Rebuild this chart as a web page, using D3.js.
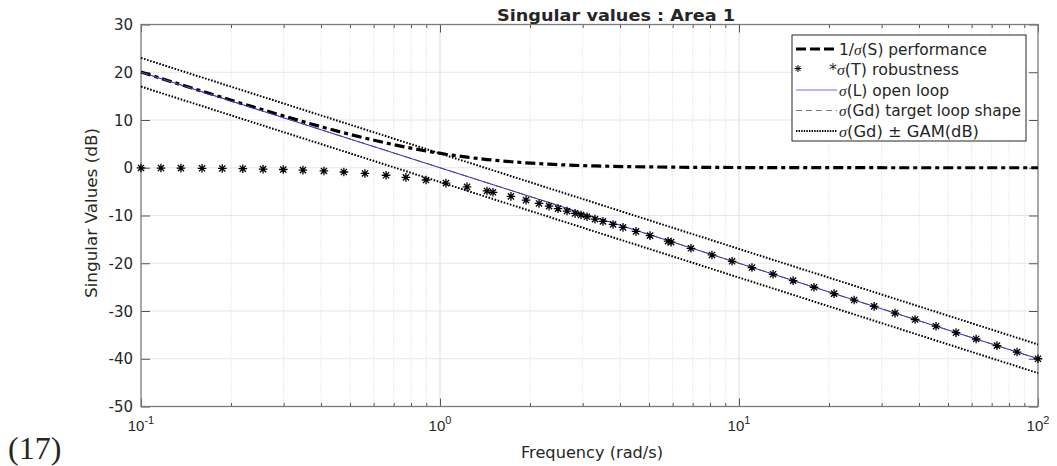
<!DOCTYPE html>
<html><head><meta charset="utf-8">
<script src="https://cdn.jsdelivr.net/npm/d3@7"></script>
<style>
body{margin:0;background:#fff}
text{font-family:"DejaVu Sans",Arial,Helvetica,sans-serif;fill:#262626}
</style></head><body>
<svg id="chart" width="1057" height="466"></svg>
<script>
// Frequency points (rad/s) of the evaluated loop responses
const freq = [0.1, 0.1166, 0.136, 0.160, 0.187, 0.219, 0.256, 0.299, 0.348, 0.409,
  0.477, 0.561, 0.660, 0.769, 0.898, 1.047, 1.231, 1.436, 1.504, 1.727,
  1.940, 2.144, 2.316, 2.482, 2.660, 2.830, 2.963, 3.102, 3.299, 3.508,
  3.791, 4.093, 4.525, 5.039, 5.791, 5.929, 6.906, 8.121, 9.483, 11.05,
  13.0, 15.17, 17.82, 20.80, 24.27, 28.31, 33.25, 38.80, 45.60, 53.2,
  62.1, 72.9, 85.1, 100];
// sigma(T), complementary sensitivity (dB)
const sigmaT = [-0.04, -0.06, -0.08, -0.11, -0.15, -0.20, -0.28, -0.37, -0.50, -0.67,
  -0.89, -1.19, -1.57, -2.02, -2.57, -3.22, -4.01, -4.86, -5.14, -6.00,
  -6.78, -7.48, -8.04, -8.55, -9.07, -9.55, -9.90, -10.26, -10.75, -11.24,
  -11.87, -12.49, -13.32, -14.21, -15.38, -15.58, -16.87, -18.26, -19.59, -20.90,
  -22.30, -23.64, -25.03, -26.37, -27.71, -29.04, -30.44, -31.78, -33.18, -34.52,
  -35.86, -37.26, -38.60, -40.00];
// 1/sigma(S), inverse sensitivity (dB)
const invSigmaS = [20.04, 18.72, 17.40, 16.03, 14.73, 13.38, 12.12, 10.87, 9.66, 8.43,
  7.31, 6.21, 5.19, 4.30, 3.51, 2.82, 2.21, 1.72, 1.60, 1.26,
  1.02, 0.86, 0.74, 0.65, 0.57, 0.51, 0.46, 0.42, 0.38, 0.34,
  0.29, 0.25, 0.21, 0.17, 0.13, 0.12, 0.09, 0.07, 0.05, 0.04,
  0.03, 0.02, 0.01, 0.01, 0.01, 0.01, 0.00, 0.00, 0.00, 0.00,
  0.00, 0.00, 0.00, 0.00];
// Straight-line responses (constant -20 dB/decade slope)
const lineFreq = [0.1, 100];
const sigmaL = [20, -40];
const sigmaGd = [20, -40];
const gdPlusGam = [23, -37];
const gdMinusGam = [17, -43];

const yTicks = [30, 20, 10, 0, -10, -20, -30, -40, -50];
const xMajor = [0.1, 1, 10, 100];
const xExp = ["-1", "0", "1", "2"];
const legendLabels = ["1/σ(S) performance", "*σ(T) robustness", "σ(L) open loop",
  "σ(Gd) target loop shape", "σ(Gd) ± GAM(dB)"];

const svg = d3.select("#chart");
const L = 141, R = 1038, T = 24.5, B = 406.5;
const x = d3.scaleLog().domain([0.1, 100]).range([L, R]);
const y = d3.scaleLinear().domain([-50, 30]).range([B, T]);

const xMinor = [];
[0.1, 1, 10].forEach(d => { for (let k = 2; k <= 9; k++) xMinor.push(+(d * k).toPrecision(3)); });

// grid
const grid = svg.append("g");
grid.selectAll(".gxm").data(xMinor).join("line")
  .attr("x1", d => x(d)).attr("x2", d => x(d)).attr("y1", T).attr("y2", B)
  .attr("stroke", "#d4d4d4").attr("stroke-width", 1).attr("stroke-dasharray", "1,2");
grid.selectAll(".gxM").data([1, 10]).join("line")
  .attr("x1", d => x(d)).attr("x2", d => x(d)).attr("y1", T).attr("y2", B)
  .attr("stroke", "#e3e3e3").attr("stroke-width", 1.2);
grid.selectAll(".gy").data(yTicks.filter(v => v < 30 && v > -50)).join("line")
  .attr("x1", L).attr("x2", R).attr("y1", d => y(d)).attr("y2", d => y(d))
  .attr("stroke", "#e6e6e6").attr("stroke-width", 1.2);

// axes with inward ticks on all four sides
function styleAxis(g) {
  g.select(".domain").remove();
  g.selectAll(".tick line").attr("stroke", "#555").attr("stroke-width", 1);
  g.selectAll(".tick text").remove();
}
svg.append("g").attr("transform", `translate(0,${B})`)
  .call(d3.axisBottom(x).tickValues(xMajor).tickSizeInner(-8).tickSizeOuter(0)).call(styleAxis);
svg.append("g").attr("transform", `translate(0,${B})`)
  .call(d3.axisBottom(x).tickValues(xMinor).tickSizeInner(-3.5).tickSizeOuter(0)).call(styleAxis);
svg.append("g").attr("transform", `translate(0,${T})`)
  .call(d3.axisTop(x).tickValues(xMajor).tickSizeInner(-8).tickSizeOuter(0)).call(styleAxis);
svg.append("g").attr("transform", `translate(0,${T})`)
  .call(d3.axisTop(x).tickValues(xMinor).tickSizeInner(-3.5).tickSizeOuter(0)).call(styleAxis);
svg.append("g").attr("transform", `translate(${L},0)`)
  .call(d3.axisLeft(y).tickValues(yTicks).tickSizeInner(-9).tickSizeOuter(0)).call(styleAxis);
svg.append("g").attr("transform", `translate(${R},0)`)
  .call(d3.axisRight(y).tickValues(yTicks).tickSizeInner(-9).tickSizeOuter(0)).call(styleAxis);

svg.append("rect").attr("x", L).attr("y", T).attr("width", R - L).attr("height", B - T)
  .attr("fill", "none").attr("stroke", "#7a7a7a").attr("stroke-width", 1.3);

// tick labels
svg.selectAll(".ylab").data(yTicks).join("text")
  .attr("x", 133).attr("y", d => y(d) + 5.5).attr("text-anchor", "end")
  .attr("font-size", 15).text(d => d);
const xl = svg.selectAll(".xlab").data(xMajor).join("text")
  .attr("x", d => x(d)).attr("y", 431).attr("text-anchor", "middle").attr("font-size", 15)
  .style("font-family", "'Liberation Sans',Arial,sans-serif");
xl.append("tspan").text("10");
xl.append("tspan").attr("dy", -7).attr("font-size", 11).text((d, i) => xExp[i]);

// curves
const line = d3.line().x(d => x(d[0])).y(d => y(d[1]));
const plot = svg.append("g");
plot.append("path").datum(freq.map((f, i) => [f, invSigmaS[i]]))
  .attr("d", line).attr("fill", "none").attr("stroke", "#000").attr("stroke-width", 3.2)
  .attr("stroke-dasharray", "10,4,4,4");
plot.append("path").datum(lineFreq.map((f, i) => [f, sigmaL[i]]))
  .attr("d", line).attr("fill", "none").attr("stroke", "#2020ff").attr("stroke-width", 1);
plot.append("path").datum(lineFreq.map((f, i) => [f, sigmaGd[i]]))
  .attr("d", line).attr("fill", "none").attr("stroke", "#555").attr("stroke-width", 1)
  .attr("stroke-dasharray", "7,5");
[gdPlusGam, gdMinusGam].forEach(arr => {
  plot.append("path").datum(lineFreq.map((f, i) => [f, arr[i]]))
    .attr("d", line).attr("fill", "none").attr("stroke", "#000").attr("stroke-width", 2)
    .attr("stroke-dasharray", "1.6,1.6");
});

// asterisk markers
function asterisk(r) {
  const d = r * 0.72;
  return `M${-r},0L${r},0M0,${-r}L0,${r}M${-d},${-d}L${d},${d}M${-d},${d}L${d},${-d}`;
}
plot.selectAll(".star").data(freq.map((f, i) => [f, sigmaT[i]])).join("path")
  .attr("transform", d => `translate(${x(d[0])},${y(d[1])})`)
  .attr("d", asterisk(4.3)).attr("stroke", "#000").attr("stroke-width", 1.3).attr("fill", "none");

// legend
const lg = svg.append("g");
lg.append("rect").attr("x", 792).attr("y", 35).attr("width", 234).attr("height", 106)
  .attr("fill", "#fff").attr("stroke", "#262626").attr("stroke-width", 1);
const rowY = [49, 69.5, 90, 110.5, 131];
const sampleX1 = 796, sampleX2 = 837;
lg.append("line").attr("x1", sampleX1).attr("x2", sampleX2).attr("y1", rowY[0]).attr("y2", rowY[0])
  .attr("stroke", "#000").attr("stroke-width", 3.2).attr("stroke-dasharray", "10,4");
lg.append("path").attr("transform", `translate(798,${rowY[1] - 1})`).attr("d", asterisk(3.5))
  .attr("stroke", "#000").attr("stroke-width", 1).attr("fill", "none");
lg.append("line").attr("x1", sampleX1).attr("x2", sampleX2).attr("y1", rowY[2]).attr("y2", rowY[2])
  .attr("stroke", "#6a6aff").attr("stroke-width", 1.2);
lg.append("line").attr("x1", sampleX1).attr("x2", sampleX2).attr("y1", rowY[3]).attr("y2", rowY[3])
  .attr("stroke", "#777").attr("stroke-width", 1).attr("stroke-dasharray", "6,4");
lg.append("line").attr("x1", sampleX1).attr("x2", sampleX2).attr("y1", rowY[4]).attr("y2", rowY[4])
  .attr("stroke", "#000").attr("stroke-width", 2).attr("stroke-dasharray", "1.4,1.2");
const textX = [839, 829, 839, 839, 839];
const textW = [148, 130, 110, 182, 140];
legendLabels.forEach((lab, i) => {
  const t = lg.append("text").attr("x", textX[i]).attr("y", rowY[i] + 5.5).attr("font-size", 15)
    .attr("fill", "#000").attr("textLength", textW[i]).attr("lengthAdjust", "spacingAndGlyphs");
  lab.split("σ").forEach((part, j) => {
    if (j > 0) t.append("tspan").style("font-family", "'Liberation Serif',serif")
      .style("font-style", "italic").text("σ");
    t.append("tspan").text(part);
  });
});

// titles
svg.append("text").attr("x", 616).attr("y", 21).attr("text-anchor", "middle")
  .attr("font-size", 15).attr("font-weight", "bold").attr("fill", "#000")
  .attr("textLength", 238).attr("lengthAdjust", "spacingAndGlyphs").text("Singular values : Area 1");
svg.append("text").attr("x", 592).attr("y", 458).attr("text-anchor", "middle")
  .attr("font-size", 15).attr("textLength", 142).attr("lengthAdjust", "spacingAndGlyphs")
  .text("Frequency (rad/s)");
svg.append("text").attr("transform", `translate(97,213) rotate(-90)`)
  .attr("text-anchor", "middle").attr("font-size", 15).attr("textLength", 170)
  .attr("lengthAdjust", "spacingAndGlyphs").text("Singular Values (dB)");
svg.append("text").attr("x", 8).attr("y", 459).attr("font-size", 32)
  .style("font-family", "'Liberation Serif','Times New Roman',serif").attr("fill", "#000").text("(17)");
</script>
</body></html>
